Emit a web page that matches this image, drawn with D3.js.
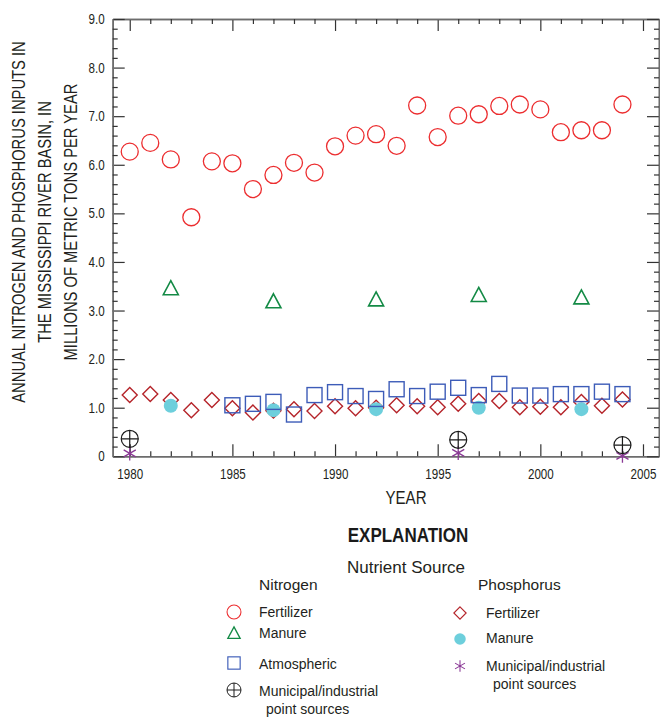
<!DOCTYPE html>
<html>
<head>
<meta charset="utf-8">
<script src="https://cdn.jsdelivr.net/npm/d3@7"></script>
<style>
  body { margin: 0; background: #fff; }
  svg { display: block; }
  text { font-family: "Liberation Sans", Arial, sans-serif; }
</style>
</head>
<body>
<div id="graph"></div>
<script>
// years & values (millions of metric tons per year)
const years = d3.range(1980, 2005);
const nFertilizer = [6.27, 6.45, 6.11, 4.92, 6.07, 6.03, 5.50, 5.79, 6.04, 5.84, 6.38, 6.60, 6.63,
  6.39, 7.22, 6.57, 7.01, 7.04, 7.21, 7.24, 7.14, 6.67, 6.71, 6.71, 7.24];
const manureYears = [1982, 1987, 1992, 1997, 2002];
const nManure = [3.46, 3.19, 3.23, 3.32, 3.27];
const atmosYears = d3.range(1985, 2005);
const nAtmospheric = [1.05, 1.08, 1.12, 0.86, 1.26, 1.32, 1.24, 1.18, 1.38, 1.24,
  1.33, 1.41, 1.26, 1.49, 1.25, 1.25, 1.28, 1.28, 1.33, 1.28];
const pointYears = [1980, 1996, 2004];
const nPoint = [0.36, 0.34, 0.23];
const pFertilizer = [1.26, 1.28, 1.16, 0.95, 1.16, 0.99, 0.90, 0.94, 0.97, 0.93, 1.03, 0.99, 1.00,
  1.05, 1.03, 1.01, 1.08, 1.14, 1.14, 1.01, 1.02, 1.01, 1.12, 1.04, 1.17];
const pManure = [1.04, 0.95, 0.97, 1.00, 0.97];
const pPoint = [0.06, 0.07, 0.01];

const xTicks = [1980, 1985, 1990, 1995, 2000, 2005];
const yTicks = [0, 1, 2, 3, 4, 5, 6, 7, 8, 9];

const W = 660, H = 717;
const svg = d3.select('#graph').append('svg').attr('width', W).attr('height', H);

let x = d3.scaleLinear().domain([1979.17, 2005.78]).range([112.7, 659]);
let y = d3.scaleLinear().domain([0, 9]).range([456.3, 19]);
const plotLeft = x.range()[0], plotRight = x.range()[1], plotTop = y.range()[1], plotBottom = y.range()[0];

// no condensed face installed, so squeeze text horizontally with a scale
function condense(sel, f) {
  sel.each(function () {
    let el = d3.select(this);
    let xv = +el.attr('x') || 0;
    let t = el.attr('transform') || '';
    el.attr('x', xv / f).attr('transform', `${t} scale(${f},1)`);
  });
}

const axisColor = '#6d6d6d';
const fmtY = d => d === 0 ? '0' : d3.format('.1f')(d);
const minorX = d3.range(1980, 2006).filter(d => d % 5 !== 0);
const minorY = d3.range(0, 46).map(d => d / 5).filter(d => Math.abs(d - Math.round(d)) > 1e-6);

function styleAxis(g) {
  g.select('.domain').attr('stroke', axisColor).attr('stroke-width', 1.6);
  g.selectAll('.tick line').attr('stroke', '#333').attr('stroke-width', 1.2);
  g.selectAll('.tick text').attr('fill', '#231f20').attr('font-family', null).attr('font-size', 14.5).call(condense, 0.8);
}
function addAxis(axis, tx, ty) {
  svg.append('g').attr('transform', `translate(${tx},${ty})`).call(axis).call(styleAxis);
}

// major ticks (labelled) and minor ticks on four sides, all pointing inward
addAxis(d3.axisBottom(x).tickValues(xTicks).tickSize(-12).tickSizeOuter(0).tickPadding(12).tickFormat(d3.format('d')), 0, plotBottom);
addAxis(d3.axisBottom(x).tickValues(minorX).tickSize(-5).tickSizeOuter(0).tickFormat(''), 0, plotBottom);
addAxis(d3.axisTop(x).tickValues(xTicks).tickSize(-12).tickSizeOuter(0).tickFormat(''), 0, plotTop);
addAxis(d3.axisTop(x).tickValues(minorX).tickSize(-5).tickSizeOuter(0).tickFormat(''), 0, plotTop);
addAxis(d3.axisLeft(y).tickValues(yTicks).tickSize(-12).tickSizeOuter(0).tickPadding(8).tickFormat(fmtY), plotLeft, 0);
addAxis(d3.axisLeft(y).tickValues(minorY).tickSize(-5).tickSizeOuter(0).tickFormat(''), plotLeft, 0);
addAxis(d3.axisRight(y).tickValues(yTicks).tickSize(-12).tickSizeOuter(0).tickFormat(''), plotRight, 0);
addAxis(d3.axisRight(y).tickValues(minorY).tickSize(-5).tickSizeOuter(0).tickFormat(''), plotRight, 0);

// axis titles
svg.append('text').attr('x', 406).attr('y', 504)
  .attr('text-anchor', 'middle').attr('font-size', 18).attr('fill', '#231f20').text('YEAR').call(condense, 0.84);
const yTitle = ['ANNUAL NITROGEN AND PHOSPHORUS INPUTS IN', 'THE MISSISSIPPI RIVER BASIN, IN', 'MILLIONS OF METRIC TONS PER YEAR'];
yTitle.forEach(function (t, i) {
  svg.append('text')
    .attr('transform', `translate(${25 + i * 26},222) rotate(-90)`)
    .attr('text-anchor', 'middle').attr('font-size', 18).attr('fill', '#231f20').text(t).call(condense, 0.82);
});

// symbol painters
const sym = {
  nFert: function (g) { g.append('circle').attr('r', 8.5).attr('fill', 'none').attr('stroke', '#ec2d2f').attr('stroke-width', 1.3); },
  nManure: function (g) { g.append('path').attr('d', 'M0,-7.5L7.5,6.5L-7.5,6.5Z').attr('fill', 'none').attr('stroke', '#138a45').attr('stroke-width', 1.6); },
  nAtmos: function (g) { g.append('rect').attr('x', -7.5).attr('y', -7.5).attr('width', 15).attr('height', 15).attr('fill', 'none').attr('stroke', '#3d5cb8').attr('stroke-width', 1.4); },
  nPoint: function (g) {
    g.append('circle').attr('r', 8.5).attr('fill', 'none').attr('stroke', '#1a1a1a').attr('stroke-width', 1.2);
    g.append('path').attr('d', 'M-8.5,0H8.5M0,-8.5V8.5').attr('stroke', '#1a1a1a').attr('stroke-width', 1.2);
  },
  pFert: function (g) { g.append('path').attr('d', 'M0,-7.5L7.5,0L0,7.5L-7.5,0Z').attr('fill', 'none').attr('stroke', '#b5242a').attr('stroke-width', 1.4); },
  pManure: function (g) { g.append('circle').attr('r', 7).attr('fill', '#6dcfdc'); },
  pPoint: function (g) {
    let a = 7, c = a * Math.cos(Math.PI / 6), s = a * Math.sin(Math.PI / 6);
    g.append('path').attr('d', `M0,${-a}V${a}M${-c},${-s}L${c},${s}M${-c},${s}L${c},${-s}`)
      .attr('stroke', '#8b3a96').attr('stroke-width', 1.3);
  }
};

function plotSeries(xs, vs, kind) {
  let pts = svg.append('g').selectAll('g').data(xs.map((d, i) => ({ year: d, value: vs[i] })))
    .join('g').attr('transform', d => `translate(${x(d.year)},${y(d.value)})`);
  pts.each(function () { sym[kind](d3.select(this)); });
}

plotSeries(years, pFertilizer, 'pFert');
plotSeries(manureYears, pManure, 'pManure');
plotSeries(atmosYears, nAtmospheric, 'nAtmos');
plotSeries(years, nFertilizer, 'nFert');
plotSeries(manureYears, nManure, 'nManure');
plotSeries(pointYears, pPoint, 'pPoint');
plotSeries(pointYears, nPoint, 'nPoint');

// explanation
svg.append('text').attr('x', 408).attr('y', 542).attr('text-anchor', 'middle')
  .attr('font-size', 20).attr('font-weight', 'bold').attr('fill', '#1a1a1a').text('EXPLANATION').call(condense, 0.85);
svg.append('text').attr('x', 406).attr('y', 573).attr('text-anchor', 'middle')
  .attr('font-size', 17).attr('fill', '#231f20').text('Nutrient Source');
svg.append('text').attr('x', 259).attr('y', 590)
  .attr('font-size', 15.5).attr('fill', '#231f20').text('Nitrogen');
svg.append('text').attr('x', 478).attr('y', 590)
  .attr('font-size', 15.5).attr('fill', '#231f20').text('Phosphorus');

const nLegend = [
  { kind: 'nFert', lines: ['Fertilizer'], sy: 612, ty: 617 },
  { kind: 'nManure', lines: ['Manure'], sy: 633, ty: 638 },
  { kind: 'nAtmos', lines: ['Atmospheric'], sy: 663, ty: 669 },
  { kind: 'nPoint', lines: ['Municipal/industrial', 'point sources'], sy: 690, ty: 696 }
];
const pLegend = [
  { kind: 'pFert', lines: ['Fertilizer'], sy: 613, ty: 618 },
  { kind: 'pManure', lines: ['Manure'], sy: 639, ty: 643 },
  { kind: 'pPoint', lines: ['Municipal/industrial', 'point sources'], sy: 666, ty: 671 }
];

function drawLegend(items, sx, tx) {
  items.forEach(function (it) {
    let g = svg.append('g').attr('transform', `translate(${sx},${it.sy}) scale(0.82)`);
    sym[it.kind](g);
    it.lines.forEach(function (l, j) {
      svg.append('text').attr('x', tx + (j ? 7 : 0)).attr('y', it.ty + j * 18)
        .attr('font-size', 14).attr('fill', '#231f20').text(l);
    });
  });
}
drawLegend(nLegend, 234, 259);
drawLegend(pLegend, 460, 486);
</script>
</body>
</html>
